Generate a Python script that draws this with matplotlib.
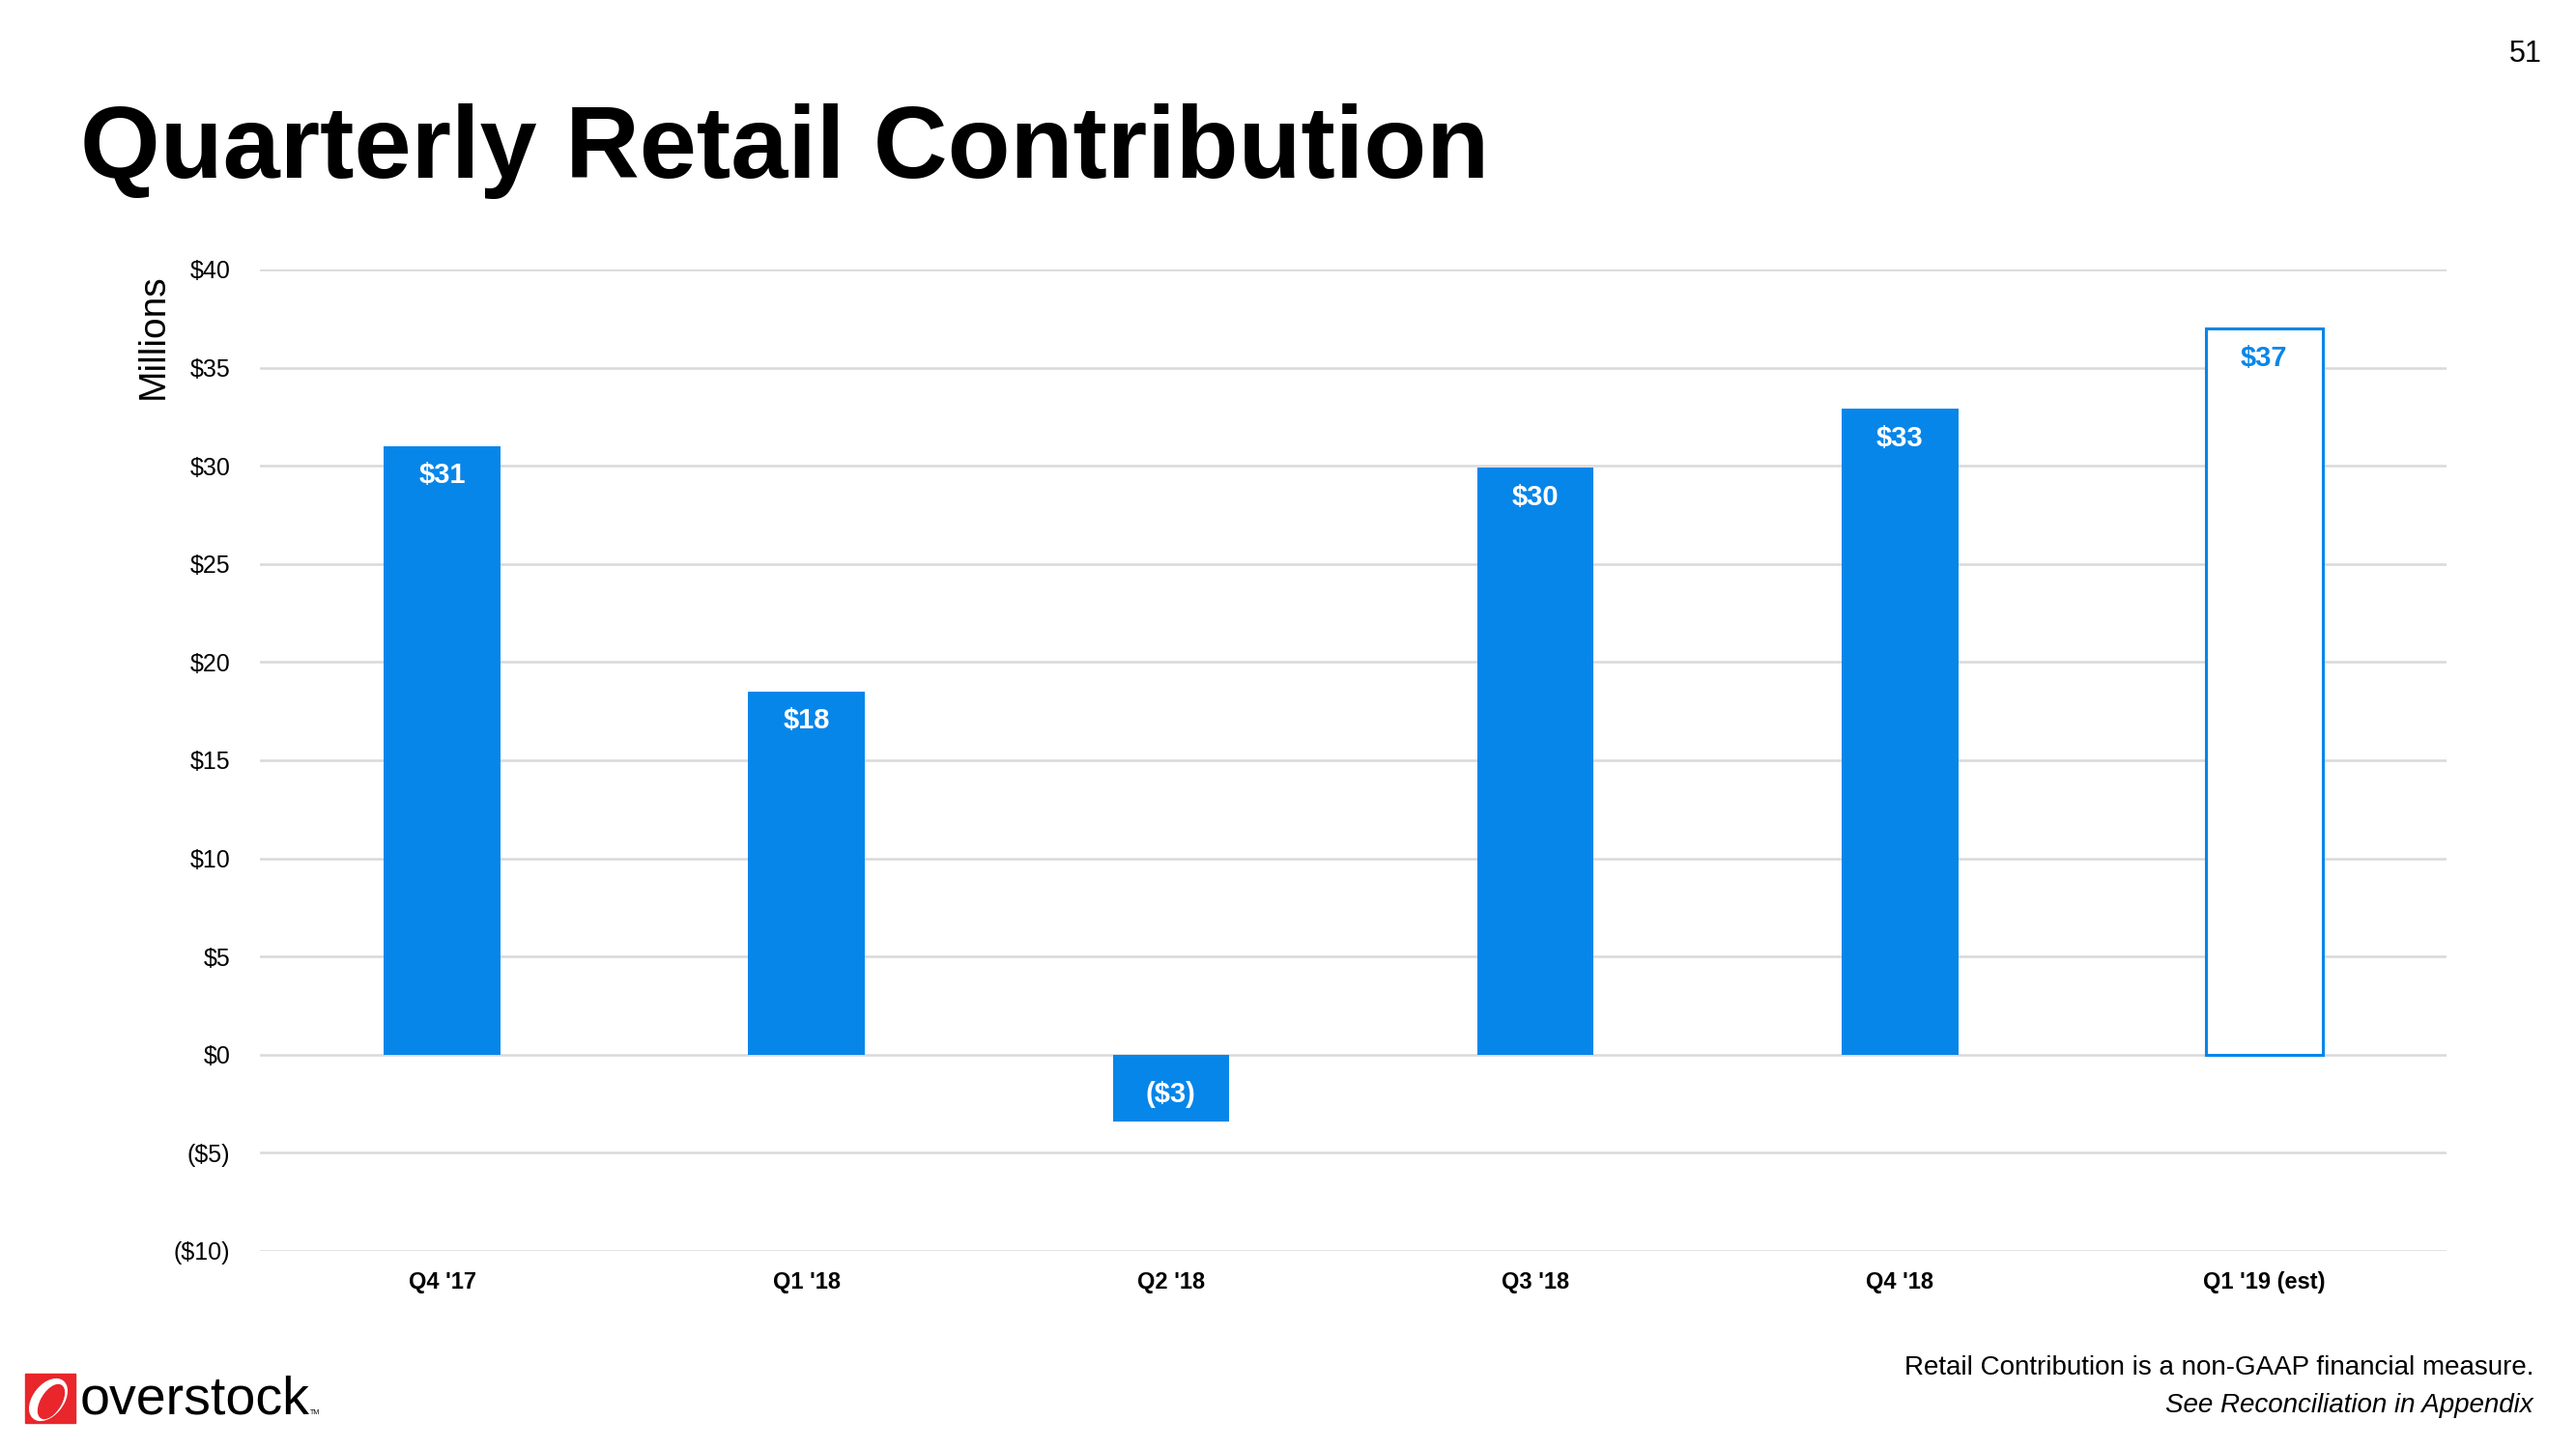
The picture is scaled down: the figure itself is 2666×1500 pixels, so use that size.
import matplotlib
matplotlib.use('Agg')
import matplotlib.pyplot as plt
from matplotlib.patches import Rectangle, Ellipse

quarters = ["Q4 '17", "Q1 '18", "Q2 '18", "Q3 '18", "Q4 '18", "Q1 '19 (est)"]
values = [31.0, 18.5, -3.4, 29.9, 32.9, 37.0]
labels = ['$31', '$18', '($3)', '$30', '$33', '$37']
estimate = [False, False, False, False, False, True]
yticks = [-10, -5, 0, 5, 10, 15, 20, 25, 30, 35, 40]
ytick_labels = ['($10)', '($5)', '$0', '$5', '$10', '$15', '$20', '$25', '$30', '$35', '$40']

blue = '#0786E9'
plt.rcParams['font.family'] = ['Liberation Sans', 'DejaVu Sans']

fig = plt.figure(figsize=(26.66, 15), dpi=100)
ax = fig.add_axes([0.1009, 0.1367, 0.8488, 0.6773])

x = range(len(quarters))
for i in x:
    if estimate[i]:
        ax.bar(i, values[i], width=0.32, facecolor='white', edgecolor=blue, linewidth=2.2, zorder=3)
        col = blue
    else:
        ax.bar(i, values[i], width=0.32, color=blue, zorder=3)
        col = 'white'
    off = -22 if values[i] >= 0 else 20
    ax.annotate(labels[i], (i, values[i]), xytext=(0, off), textcoords='offset points',
                ha='center', va='center', color=col, fontsize=21, fontweight='bold', zorder=4)

ax.set_xlim(-0.5, len(quarters) - 0.5)
ax.set_ylim(-10, 40)
ax.set_yticks(yticks)
ax.set_yticklabels(ytick_labels, fontsize=18)
ax.set_xticks(list(x))
ax.set_xticklabels(quarters, fontsize=17, fontweight='bold')
ax.tick_params(axis='both', length=0)
ax.tick_params(axis='y', pad=22)
ax.tick_params(axis='x', pad=15)
ax.yaxis.grid(True, color='#D9D9D9', linewidth=1.8, zorder=0)
ax.set_axisbelow(True)
for s in ax.spines.values():
    s.set_visible(False)

fig.text(0.0595, 0.768, 'Millions', rotation=90, fontsize=28, ha='center', va='center')

fig.text(0.031, 0.877, 'Quarterly Retail Contribution', fontsize=76.5, fontweight='bold',
         ha='left', va='baseline')
fig.text(0.9805, 0.963, '51', fontsize=22, ha='center', va='center')

fig.text(0.9835, 0.056, 'Retail Contribution is a non-GAAP financial measure.', fontsize=20,
         ha='right', va='center')
fig.text(0.9835, 0.030, 'See Reconciliation in Appendix', fontsize=20, style='italic',
         ha='right', va='center')

# logo
fig.patches.append(Rectangle((26 / 2666, 1 - 1473 / 1500), 52 / 2666, 51 / 1500,
                             transform=fig.transFigure, color='#E8262B', zorder=1))
fig.patches.append(Ellipse((50 / 2666, 1 - 1449 / 1500), 34 / 2666, 44 / 1500, angle=-15,
                           transform=fig.transFigure, color='white', zorder=2))
fig.patches.append(Ellipse((53 / 2666, 1 - 1451 / 1500), 22 / 2666, 36 / 1500, angle=-15,
                           transform=fig.transFigure, color='#E8262B', zorder=3))
fig.text(0.031, 0.024, 'overstock', fontsize=40, ha='left', va='baseline', color='black')
fig.text(0.1205, 0.024, 'TM', fontsize=5, ha='left', va='baseline', color='black')

fig.savefig('out.png', dpi=100, facecolor='white')
